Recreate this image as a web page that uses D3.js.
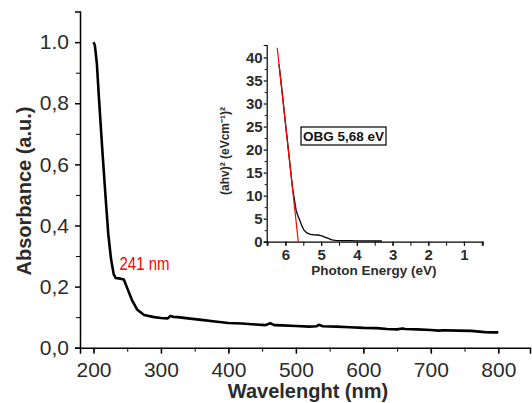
<!DOCTYPE html>
<html>
<head>
<meta charset="utf-8">
<script src="https://cdn.jsdelivr.net/npm/d3@7"></script>
<style>
  body { margin: 0; background: #fff; }
  svg { display: block; font-family: "Liberation Sans", Arial, sans-serif; }
  .axis path, .axis line { stroke: #000; }
  .main .tick text { font-size: 21px; fill: #2b2b2b; }
  .inset .tick text { font-size: 15px; font-weight: bold; fill: #2b2b2b; }
</style>
</head>
<body>
<svg id="chart" width="532" height="403"></svg>
<script>

// main spectrum
var wavelength = [200, 202, 205, 208, 213, 218, 222, 226, 230, 233, 240, 245, 250, 257, 265, 275,
  290, 300, 310, 314, 318, 325, 340, 360, 380, 400, 420, 440, 455, 462, 468, 480, 500, 520,
  530, 534, 540, 560, 580, 600, 620, 635, 650, 658, 662, 680, 700, 712, 718, 740, 760, 780, 790, 800];
var absorbance = [1.0, 0.99, 0.93, 0.82, 0.65, 0.49, 0.37, 0.29, 0.24, 0.228, 0.226, 0.223, 0.195,
  0.156, 0.124, 0.107, 0.1, 0.097, 0.096, 0.104, 0.101, 0.1, 0.096, 0.091, 0.086, 0.081, 0.079,
  0.076, 0.074, 0.08, 0.074, 0.073, 0.071, 0.069, 0.07, 0.075, 0.07, 0.069, 0.067, 0.065, 0.064,
  0.061, 0.06, 0.063, 0.061, 0.06, 0.058, 0.056, 0.057, 0.056, 0.055, 0.051, 0.05, 0.05];

var xTicks = [200, 300, 400, 500, 600, 700, 800];
var yTicks = [0, 0.2, 0.4, 0.6, 0.8, 1.0];
var yTickLabels = ['0,0', '0,2', '0,4', '0,6', '0,8', '1.0'];

// inset: Tauc plot
var energy = [6.18, 6.1, 6.0, 5.9, 5.8, 5.7, 5.65, 5.6, 5.55, 5.48, 5.4, 5.3, 5.2, 5.1, 5.0,
  4.9, 4.8, 4.7, 4.6, 4.5, 4.2, 4.0, 3.6, 3.3];
var tauc = [38.5, 33.0, 25.8, 18.7, 11.6, 6.8, 5.6, 4.7, 3.6, 2.5, 1.9, 1.6, 1.5, 1.45, 1.3,
  1.0, 0.7, 0.4, 0.3, 0.25, 0.22, 0.2, 0.18, 0.15];
var fitEnergy = [6.23, 5.64];
var fitValue = [42.1, 0];
var insetXTicks = [6, 5, 4, 3, 2, 1];
var insetYTicks = [0, 5, 10, 15, 20, 25, 30, 35, 40];

var svg = d3.select('#chart');

var x = d3.scaleLinear().domain([180, 847]).range([80, 530]);
var y = d3.scaleLinear().domain([0, 1.1]).range([347.7, 11.6]);

var main = svg.append('g').attr('class', 'main');

// minor ticks first, then the labelled ones
main.append('g')
    .attr('class', 'axis')
    .attr('transform', 'translate(0,347.7)')
    .call(d3.axisBottom(x).tickValues(d3.range(200, 850, 50)).tickSize(4).tickFormat(''))
    .call(function(g) { g.select('.domain').remove(); });

main.append('g')
    .attr('class', 'axis')
    .attr('transform', 'translate(0,347.7)')
    .call(d3.axisBottom(x).tickValues(xTicks).tickSizeOuter(0).tickSize(6).tickPadding(8))
    .call(function(g) { g.selectAll('.tick text').attr('dy', '0.71em'); })
    .selectAll('path, line').attr('stroke-width', 1.5);

main.append('g')
    .attr('class', 'axis')
    .attr('transform', 'translate(80,0)')
    .call(d3.axisLeft(y).tickValues(d3.range(0.1, 1.1, 0.2)).tickSize(4).tickFormat(''))
    .call(function(g) { g.select('.domain').remove(); });

main.append('g')
    .attr('class', 'axis')
    .attr('transform', 'translate(80,0)')
    .call(d3.axisLeft(y).tickValues(yTicks).tickSizeOuter(0).tickSize(5).tickPadding(6)
      .tickFormat(function(d, i) { return yTickLabels[i]; }))
    .selectAll('path, line').attr('stroke-width', 1.5);

var mainLine = d3.line()
    .x(function(d, i) { return x(wavelength[i]); })
    .y(function(d) { return y(d); });

main.append('path')
    .attr('d', mainLine(absorbance))
    .attr('fill', 'none')
    .attr('stroke', '#000')
    .attr('stroke-width', 2.6)
    .attr('stroke-linejoin', 'round');

// narrow red label, squeezed to the width it has in the picture
main.append('text')
    .attr('x', 119.5)
    .attr('y', y(0.253))
    .attr('fill', '#f00')
    .attr('textLength', 50)
    .attr('lengthAdjust', 'spacingAndGlyphs')
    .style('font-size', '18px')
    .text('241 nm');

main.append('text')
    .attr('transform', 'translate(31,191) rotate(-90)')
    .attr('text-anchor', 'middle')
    .style('font-size', '20px')
    .style('font-weight', 'bold')
    .attr('fill', '#2b2b2b')
    .text('Absorbance (a.u.)');

main.append('text')
    .attr('x', 308)
    .attr('y', 398)
    .attr('text-anchor', 'middle')
    .style('font-size', '20px')
    .style('font-weight', 'bold')
    .attr('fill', '#2b2b2b')
    .text('Wavelenght (nm)');

// inset
var ix = d3.scaleLinear().domain([6.525, 0.475]).range([266.7, 482.7]);
var iy = d3.scaleLinear().domain([0, 42.7]).range([241.7, 45]);

var inset = svg.append('g').attr('class', 'inset');

inset.append('g')
    .attr('class', 'axis')
    .attr('transform', 'translate(0,241.7)')
    .call(d3.axisBottom(ix).tickValues(d3.range(6.5, 0.4, -0.5)).tickSize(4).tickFormat(''))
    .call(function(g) { g.select('.domain').remove(); });

inset.append('g')
    .attr('class', 'axis')
    .attr('transform', 'translate(0,241.7)')
    .call(d3.axisBottom(ix).tickValues(insetXTicks).tickSizeOuter(0).tickSize(4).tickPadding(4).tickFormat(d3.format('d')))
    .selectAll('path, line').attr('stroke-width', 1.2);

inset.append('g')
    .attr('class', 'axis')
    .attr('transform', 'translate(266.7,0)')
    .call(d3.axisLeft(iy).tickValues(d3.range(2.5, 42.5, 5)).tickSize(2).tickFormat(''))
    .call(function(g) { g.select('.domain').remove(); });

inset.append('g')
    .attr('class', 'axis')
    .attr('transform', 'translate(266.7,0)')
    .call(d3.axisLeft(iy).tickValues(insetYTicks).tickSizeOuter(0).tickSize(3).tickPadding(1))
    .selectAll('path, line').attr('stroke-width', 1.2);

var insetLine = d3.line()
    .x(function(d, i) { return ix(energy[i]); })
    .y(function(d) { return iy(d); });

inset.append('path')
    .attr('d', insetLine(tauc))
    .attr('fill', 'none')
    .attr('stroke', '#000')
    .attr('stroke-width', 1.3);

var fitLine = d3.line()
    .x(function(d, i) { return ix(fitEnergy[i]); })
    .y(function(d) { return iy(d); });

inset.append('path')
    .attr('d', fitLine(fitValue))
    .attr('fill', 'none')
    .attr('stroke', '#f00')
    .attr('stroke-width', 1.2);

inset.append('rect')
    .attr('x', 301)
    .attr('y', 127)
    .attr('width', 85)
    .attr('height', 18)
    .attr('fill', '#fff')
    .attr('stroke', '#000')
    .attr('stroke-width', 1.2);

inset.append('text')
    .attr('x', 343.5)
    .attr('y', 141)
    .attr('text-anchor', 'middle')
    .style('font-size', '13.5px')
    .style('font-weight', 'bold')
    .attr('fill', '#111')
    .text('OBG 5,68 eV');

inset.append('text')
    .attr('transform', 'translate(229,151) rotate(-90)')
    .attr('text-anchor', 'middle')
    .style('font-size', '12px')
    .style('font-weight', 'bold')
    .attr('fill', '#2b2b2b')
    .text('(ahv)\u00b2 (eVcm\u207b\u00b9)\u00b2');

inset.append('text')
    .attr('x', 374)
    .attr('y', 275)
    .attr('text-anchor', 'middle')
    .style('font-size', '13.5px')
    .style('font-weight', 'bold')
    .attr('fill', '#2b2b2b')
    .text('Photon Energy (eV)');

</script>
</body>
</html>
